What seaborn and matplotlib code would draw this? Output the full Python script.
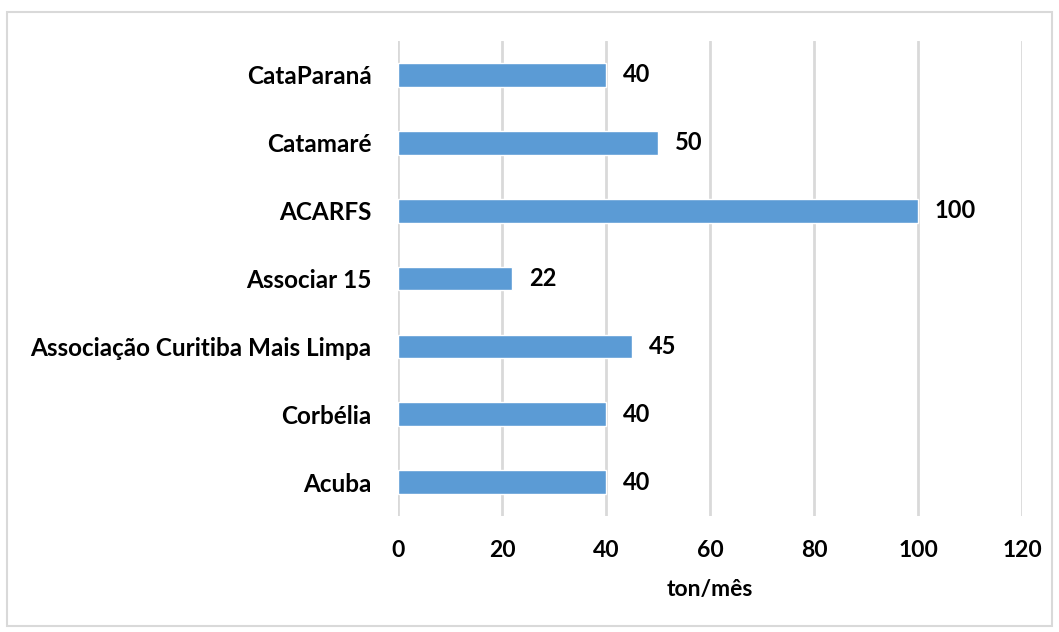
import matplotlib
matplotlib.use('Agg')
import matplotlib.pyplot as plt
import seaborn as sns
import pandas as pd
from matplotlib.patches import Rectangle

# Data
CATEGORIES = ['CataParaná', 'Catamaré', 'ACARFS', 'Associar 15',
              'Associação Curitiba Mais Limpa', 'Corbélia', 'Acuba']
VALUES = [40, 50, 100, 22, 45, 40, 40]
X_TICKS = [0, 20, 40, 60, 80, 100, 120]
X_LABEL = 'ton/mês'

BAR_COLOR = '#5B9BD5'
GRID_COLOR = '#D9D9D9'

sns.set_style('white')
plt.rcParams['font.family'] = ['Lato', 'DejaVu Sans']
plt.rcParams['font.weight'] = 'bold'
plt.rcParams['text.color'] = 'black'
plt.rcParams['xtick.color'] = 'black'
plt.rcParams['ytick.color'] = 'black'
plt.rcParams['axes.labelcolor'] = 'black'

df = pd.DataFrame({'cat': CATEGORIES, 'val': VALUES})

fig = plt.figure(figsize=(10.59, 6.32), dpi=100)
ax = fig.add_axes([0.3758, 0.1835, 0.5893, 0.7516])

sns.barplot(data=df, x='val', y='cat', color=BAR_COLOR, width=0.35,
            saturation=1, ax=ax, zorder=3)

ax.set_xlim(0, 120)
ax.set_ylim(len(CATEGORIES) - 0.5, -0.5)
ax.set_xticks(X_TICKS)
ax.set_xticklabels([str(t) for t in X_TICKS], fontsize=16.5, fontweight='bold')
ax.tick_params(axis='x', length=0, pad=17)
ax.tick_params(axis='y', length=0, pad=19, labelsize=17.5)
for lbl in ax.get_yticklabels():
    lbl.set_fontweight('bold')

ax.xaxis.grid(True, color=GRID_COLOR, linewidth=2, zorder=0)
ax.yaxis.grid(False)
for s in ax.spines.values():
    s.set_visible(False)

ax.set_xlabel(X_LABEL, fontsize=16.5, fontweight='bold', labelpad=13)
ax.set_ylabel('')

# value labels
for container in ax.containers:
    ax.bar_label(container, padding=12, fontsize=17, fontweight='bold')

# outer border
fig.patches.append(Rectangle((7 / 1059, 1 - 626 / 632), 1045 / 1059, 614 / 632,
                             transform=fig.transFigure, fill=False,
                             edgecolor='#D9D9D9', linewidth=1.5))

fig.savefig('out.png', dpi=100)
plt.close(fig)
